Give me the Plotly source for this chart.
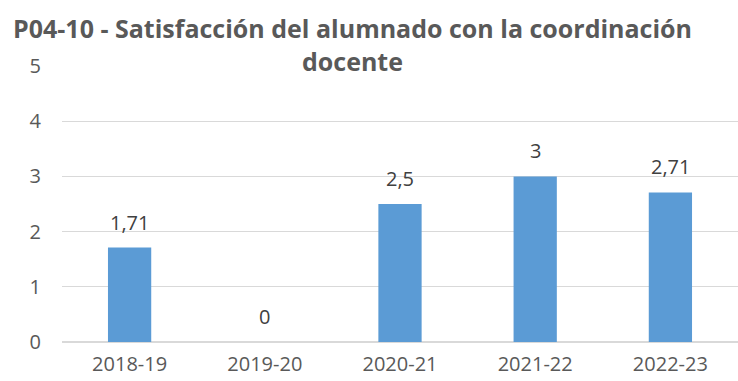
import plotly.graph_objects as go

cursos = ["2018-19", "2019-20", "2020-21", "2021-22", "2022-23"]
satisfaccion = [1.71, 0, 2.5, 3, 2.71]
etiquetas = ["1,71", "0", "2,5", "3", "2,71"]
y_ticks = [0, 1, 2, 3, 4, 5]

FONT = "Open Sans"
GRIS = "#595959"

fig = go.Figure(
    go.Bar(
        x=cursos,
        y=satisfaccion,
        marker=dict(color="#5B9BD5", line=dict(width=0)),
        width=0.32,
    )
)

# value labels above each bar
value_labels = [
    dict(
        x=c, y=v, text=t,
        xref="x", yref="y",
        xanchor="center", yanchor="bottom",
        yshift=10, showarrow=False,
        font=dict(family=FONT, size=20, color="#404040"),
    )
    for c, v, t in zip(cursos, satisfaccion, etiquetas)
]

title = dict(
    text="<b>P04-10 - Satisfacción del alumnado con la coordinación<br>docente</b>",
    xref="paper", yref="paper",
    x=0.43, y=1.0, yshift=57,
    xanchor="center", yanchor="top",
    showarrow=False,
    font=dict(family=FONT, size=25, color=GRIS),
    align="center",
)

fig.update_layout(
    width=738,
    height=381,
    margin=dict(l=62, r=0, t=66, b=39),
    paper_bgcolor="white",
    plot_bgcolor="white",
    showlegend=False,
    font=dict(family=FONT, size=20, color=GRIS),
    annotations=[title] + value_labels,
)

fig.update_yaxes(
    range=[0, 5],
    tickvals=y_ticks,
    showgrid=True,
    gridcolor="#D9D9D9",
    gridwidth=1,
    zeroline=True,
    zerolinecolor="#D9D9D9",
    zerolinewidth=2,
    showline=False,
    ticks="",
    ticklabelstandoff=20,
    tickfont=dict(family=FONT, size=20, color=GRIS),
)
fig.update_xaxes(
    showgrid=False,
    showline=False,
    ticks="",
    ticklabelstandoff=8,
    tickfont=dict(family=FONT, size=20, color=GRIS),
)

fig.write_html("out.html")
